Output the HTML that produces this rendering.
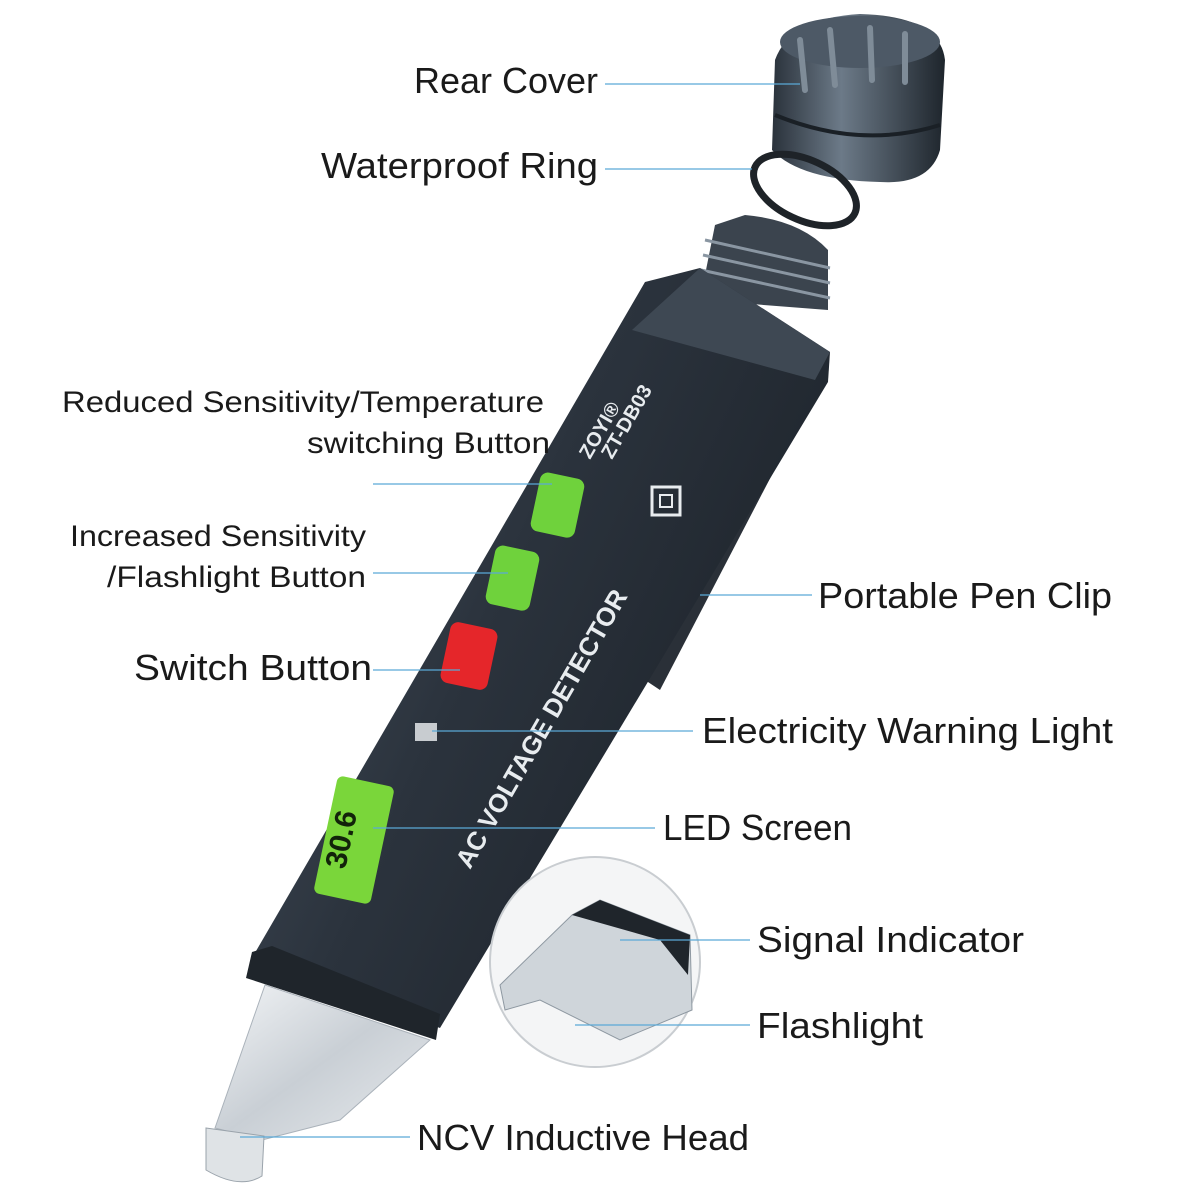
<!DOCTYPE html>
<html><head><meta charset="utf-8"><style>
html,body{margin:0;padding:0;background:#fff;}
svg{display:block}
text{font-family:"Liberation Sans",sans-serif;fill:#1a1a1a}
</style></head><body>
<svg width="1200" height="1200" viewBox="0 0 1200 1200" xmlns="http://www.w3.org/2000/svg">
<defs>
<linearGradient id="body" x1="0" y1="0" x2="1" y2="0.6">
<stop offset="0" stop-color="#4a5562"/><stop offset="0.5" stop-color="#2b333d"/><stop offset="1" stop-color="#1c2229"/></linearGradient>
<linearGradient id="cap" x1="0" y1="0" x2="1" y2="0">
<stop offset="0" stop-color="#2a323b"/><stop offset="0.4" stop-color="#6c7a88"/><stop offset="1" stop-color="#1e252c"/></linearGradient>
<linearGradient id="tip" x1="0" y1="0" x2="1" y2="1">
<stop offset="0" stop-color="#f2f4f6"/><stop offset="0.5" stop-color="#c9cfd5"/><stop offset="1" stop-color="#e7eaed"/></linearGradient>
</defs>

<!-- Cap -->
<path d="M775,60 Q790,18 860,14 Q940,16 945,60 L940,150 Q930,185 880,182 Q800,180 772,150 Z" fill="url(#cap)"/>
<ellipse cx="860" cy="42" rx="80" ry="26" fill="#4d5966"/>
<path d="M800,40 L805,90 M830,30 L835,85 M870,28 L872,80 M905,34 L905,82" stroke="#7f8c98" stroke-width="6" stroke-linecap="round"/>
<path d="M775,115 Q860,150 940,125" stroke="#1a2026" stroke-width="4" fill="none"/>
<!-- O-ring -->
<ellipse cx="805" cy="190" rx="55" ry="30" transform="rotate(25 805 190)" fill="none" stroke="#1e2328" stroke-width="7"/>
<!-- Thread -->
<path d="M715,225 L745,215 Q800,220 828,250 L828,310 L700,300 Z" fill="#3b444e"/>
<path d="M705,240 L830,268 M703,255 L830,283 M701,270 L830,298" stroke="#8a96a2" stroke-width="3"/>
<!-- Clip -->
<path d="M760,420 L790,440 L660,690 L630,670 Z" fill="#2a3038"/>
<!-- Body -->
<path d="M645,282 L700,268 L830,352 L828,382 L440,1028 L252,958 Z" fill="url(#body)"/>
<path d="M632,330 L700,268 L830,352 L815,380 Z" fill="#3e4853"/>
<!-- ring -->
<path d="M252,952 L272,946 L440,1014 L436,1040 L246,978 Z" fill="#1f252b"/>
<!-- tip -->
<path d="M265,985 L430,1040 L340,1120 L262,1140 L215,1128 Z" fill="url(#tip)" stroke="#aab2ba"/>
<path d="M206,1128 L264,1136 L262,1176 Q240,1190 206,1170 Z" fill="#dfe3e6" stroke="#9aa3ab"/>
<!-- buttons -->
<rect x="535" y="475" width="45" height="60" rx="8" fill="#6fd23c" transform="rotate(12 557 505)"/>
<rect x="490" y="548" width="45" height="60" rx="8" fill="#6fd23c" transform="rotate(12 512 578)"/>
<rect x="445" y="625" width="48" height="62" rx="8" fill="#e5262a" transform="rotate(12 469 656)"/>
<rect x="415" y="723" width="22" height="18" fill="#c8ccd0"/>
<!-- LCD -->
<rect x="325" y="780" width="58" height="120" rx="6" fill="#7ad63a" transform="rotate(12 354 840)"/>
<text x="0" y="0" font-size="30" font-weight="bold" transform="translate(345,870) rotate(-78)" style="fill:#12230a">30.6</text>
<!-- body text -->
<text font-size="26" font-weight="bold" transform="translate(470,870) rotate(-60)" style="fill:#e8ecef">AC VOLTAGE DETECTOR</text>
<text font-size="20" font-weight="bold" transform="translate(590,460) rotate(-60)" style="fill:#e8ecef">ZOYI®</text>
<text font-size="20" font-weight="bold" transform="translate(612,460) rotate(-60)" style="fill:#e8ecef">ZT-DB03</text>
<rect x="652" y="487" width="28" height="28" fill="none" stroke="#e8ecef" stroke-width="3"/>
<rect x="660" y="495" width="12" height="12" fill="none" stroke="#e8ecef" stroke-width="2"/>

<!-- inset circle -->
<circle cx="595" cy="962" r="105" fill="#f4f5f6" stroke="#c9cdd1" stroke-width="2"/>
<path d="M572,915 L600,900 L690,935 L692,1010 L620,1040 L540,1000 L505,1010 L500,985 Z" fill="#cfd5da" stroke="#8e98a1"/>
<path d="M572,915 L600,900 L690,935 L688,975 L660,940 Z" fill="#1f252b"/>

<!-- leader lines -->
<g stroke="#5aa9d6" stroke-width="1.3" fill="none">
<line x1="605" y1="84" x2="800" y2="84"/>
<line x1="605" y1="169" x2="752" y2="169"/>
<line x1="373" y1="484" x2="552" y2="484"/>
<line x1="373" y1="573" x2="508" y2="573"/>
<line x1="373" y1="670" x2="460" y2="670"/>
<line x1="700" y1="595" x2="812" y2="595"/>
<line x1="432" y1="731" x2="693" y2="731"/>
<line x1="373" y1="828" x2="655" y2="828"/>
<line x1="620" y1="940" x2="750" y2="940"/>
<line x1="575" y1="1025" x2="750" y2="1025"/>
<line x1="240" y1="1137" x2="410" y2="1137"/>
</g>

<!-- labels -->
<g lengthAdjust="spacingAndGlyphs">
<text x="414" y="93" font-size="36" textLength="184" lengthAdjust="spacingAndGlyphs">Rear Cover</text>
<text x="321" y="178" font-size="36" textLength="277" lengthAdjust="spacingAndGlyphs">Waterproof Ring</text>
<text x="62" y="412" font-size="30" textLength="482" lengthAdjust="spacingAndGlyphs">Reduced Sensitivity/Temperature</text>
<text x="307" y="453" font-size="30" textLength="243" lengthAdjust="spacingAndGlyphs">switching Button</text>
<text x="70" y="546" font-size="30" textLength="296" lengthAdjust="spacingAndGlyphs">Increased Sensitivity</text>
<text x="107" y="587" font-size="30" textLength="259" lengthAdjust="spacingAndGlyphs">/Flashlight Button</text>
<text x="134" y="680" font-size="36" textLength="238" lengthAdjust="spacingAndGlyphs">Switch Button</text>
<text x="818" y="608" font-size="36" textLength="294" lengthAdjust="spacingAndGlyphs">Portable Pen Clip</text>
<text x="702" y="743" font-size="36" textLength="411" lengthAdjust="spacingAndGlyphs">Electricity Warning Light</text>
<text x="663" y="840" font-size="36" textLength="189" lengthAdjust="spacingAndGlyphs">LED Screen</text>
<text x="757" y="952" font-size="36" textLength="267" lengthAdjust="spacingAndGlyphs">Signal Indicator</text>
<text x="757" y="1038" font-size="36" textLength="166" lengthAdjust="spacingAndGlyphs">Flashlight</text>
<text x="417" y="1150" font-size="36" textLength="332" lengthAdjust="spacingAndGlyphs">NCV Inductive Head</text>
</g>
</svg>
</body></html>
